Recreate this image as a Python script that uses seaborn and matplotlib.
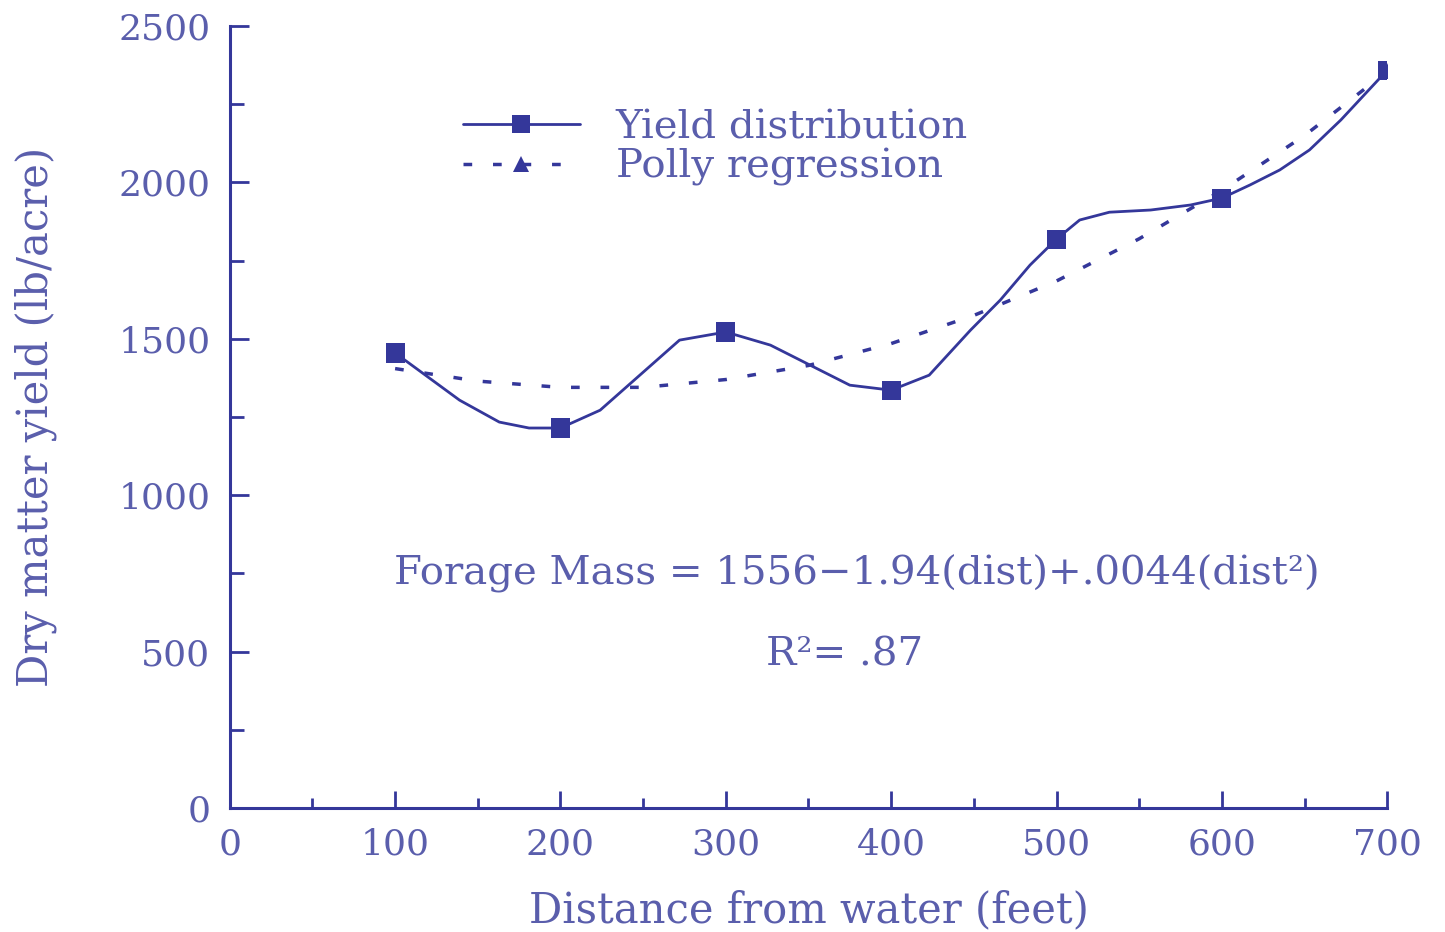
import seaborn as sns
import pandas as pd
from matplotlib import pyplot as plt
from matplotlib.lines import Line2D

# measured yield at each distance
dist = [100, 200, 300, 400, 500, 600, 700]
yield_lb = [1455, 1215, 1522, 1336, 1819, 1950, 2359]

# smoothed yield curve as traced on the figure
curve_x = [100, 139, 163, 181, 200, 224, 248, 272, 300, 327, 351, 375, 400,
           423, 448, 466, 484, 500, 514, 532, 557, 581, 600, 617, 635, 653, 672, 700]
curve_y = [1455, 1304, 1234, 1215, 1215, 1272, 1384, 1496, 1522, 1480, 1416, 1352, 1336,
           1384, 1528, 1624, 1736, 1819, 1880, 1905, 1912, 1928, 1950, 1992, 2040, 2104, 2200, 2359]

# polynomial regression curve as traced on the figure
reg_x = [100, 150, 200, 250, 300, 350, 400, 450, 500, 550, 600, 650, 700]
reg_y = [1405, 1365, 1345, 1345, 1370, 1415, 1485, 1575, 1685, 1820, 1975, 2150, 2355]

x_ticks = [0, 100, 200, 300, 400, 500, 600, 700]
y_ticks = [0, 500, 1000, 1500, 2000, 2500]

line_c = '#34379a'
text_c = '#5a5eac'
dots = (0, (2.5, 6))

sns.set_theme(style="white")
plt.rcParams['font.family'] = ['DejaVu Serif', 'DejaVu Sans']

fig = plt.figure(figsize=(14.45, 9.32), dpi=100)
ax = fig.add_axes([0.159, 0.133, 0.801, 0.839])

curve = pd.DataFrame({'x': curve_x, 'y': curve_y})
pts = pd.DataFrame({'x': dist, 'y': yield_lb})
reg = pd.DataFrame({'x': reg_x, 'y': reg_y})

sns.lineplot(data=reg, x='x', y='y', ax=ax, color=line_c, lw=2.5,
             linestyle=dots, marker='^', markersize=12,
             markevery=[len(reg_x) - 1], markeredgewidth=0)
sns.lineplot(data=curve, x='x', y='y', ax=ax, color=line_c, lw=2)
sns.scatterplot(data=pts, x='x', y='y', ax=ax, color=line_c, marker='s',
                s=190, edgecolor='none', zorder=5)

ax.set_xlim(0, 700)
ax.set_ylim(0, 2500)
ax.set_xticks(x_ticks)
ax.set_xticks(range(50, 700, 100), minor=True)
ax.set_yticks(y_ticks)
ax.set_yticks(range(250, 2500, 500), minor=True)
ax.set_xticklabels([str(v) for v in x_ticks])
ax.set_yticklabels([str(v) for v in y_ticks])

sns.despine(ax=ax)
for s in ['left', 'bottom']:
    ax.spines[s].set_color(line_c)
    ax.spines[s].set_linewidth(2.2)

ax.tick_params(axis='both', which='both', direction='in', color=line_c,
               width=2, labelcolor=text_c, labelsize=26, bottom=True, left=True)
ax.tick_params(axis='x', which='major', length=12, pad=14)
ax.tick_params(axis='x', which='minor', length=7)
ax.tick_params(axis='y', which='major', length=14, pad=14)
ax.tick_params(axis='y', which='minor', length=10)

ax.set_xlabel('Distance from water (feet)', fontsize=30, color=text_c, labelpad=20)
ax.set_ylabel('Dry matter yield (lb/acre)', fontsize=30, color=text_c, labelpad=44)

handles = [
    Line2D([], [], color=line_c, lw=2, marker='s', markersize=13, markeredgewidth=0),
    Line2D([], [], color=line_c, lw=2.5, linestyle=dots, marker='^',
           markersize=12, markeredgewidth=0),
]
leg = ax.legend(handles, ['Yield distribution', 'Polly regression'],
                loc='upper left', bbox_to_anchor=(0.17, 0.94), frameon=False,
                fontsize=29, handlelength=2.9, handletextpad=0.9, labelspacing=0.05)
for t in leg.get_texts():
    t.set_color(text_c)

ax.text(379, 750, 'Forage Mass = 1556\u22121.94(dist)+.0044(dist\u00b2)',
        ha='center', va='center', fontsize=29, color=text_c)
ax.text(372, 490, 'R\u00b2= .87', ha='center', va='center', fontsize=29, color=text_c)

fig.savefig('out.png', dpi=100)
